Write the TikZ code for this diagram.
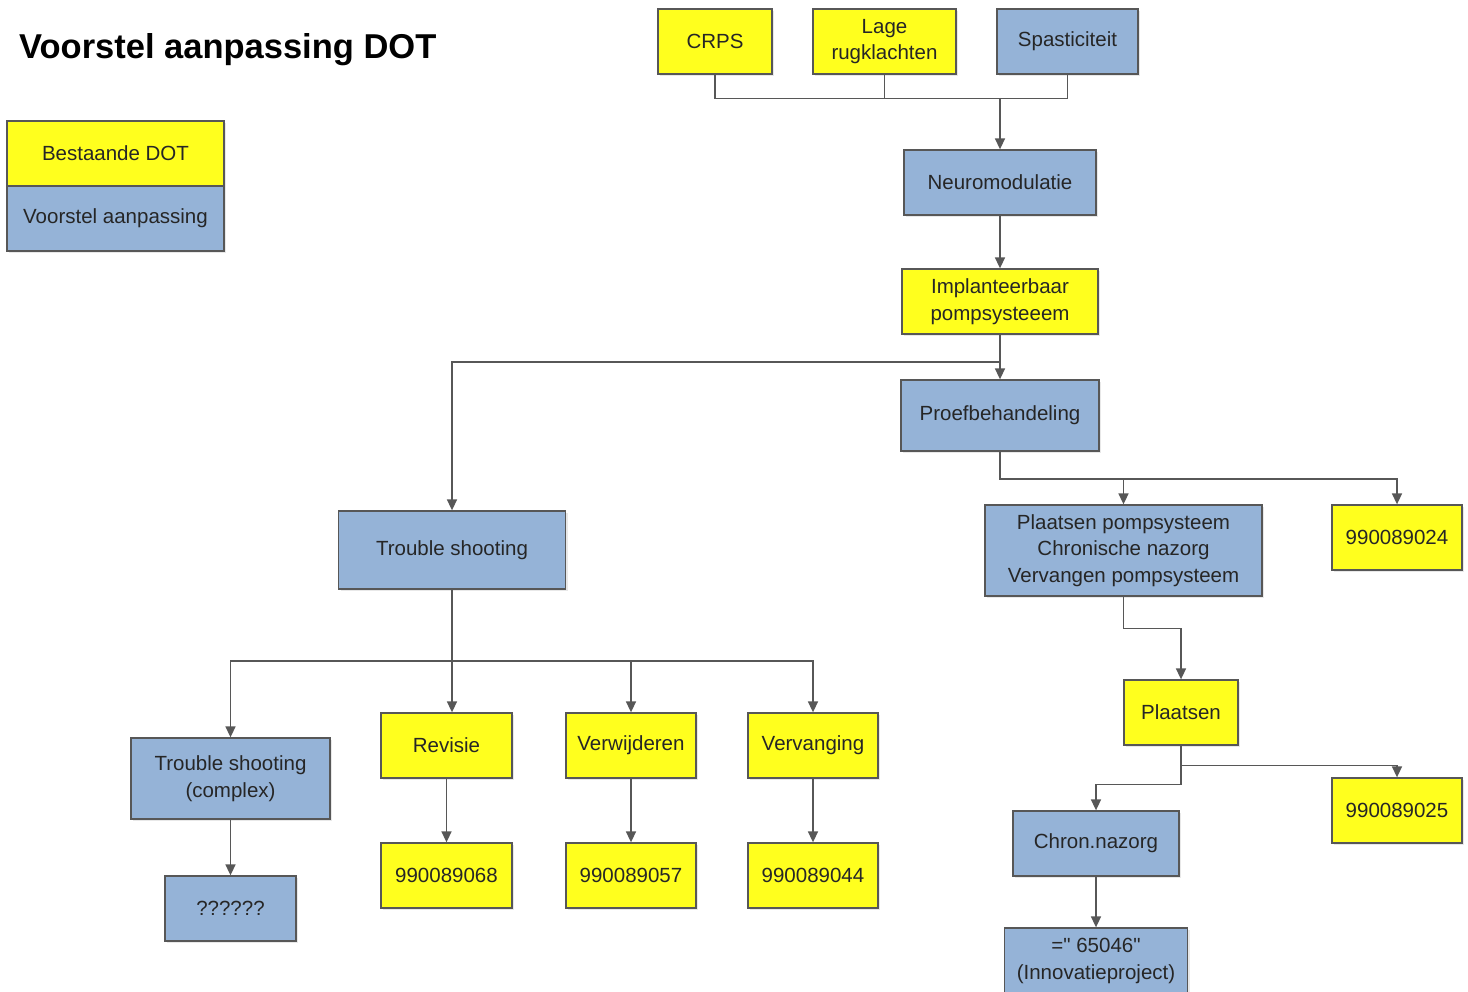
\documentclass[tikz,border=0pt]{standalone}
\usepackage{fontspec}
\setmainfont{Liberation Sans}[Ligatures=TeXOff]
\usepackage{tikz}
\usetikzlibrary{arrows.meta,shadows}

\definecolor{dotyellow}{HTML}{FFFF1E}
\definecolor{newblue}{HTML}{95B3D7}
\definecolor{edgegray}{HTML}{575757}

\begin{document}
\begin{tikzpicture}[x=1pt,y=-1pt,line width=1.6pt,draw=edgegray,
                    >={Triangle[width=10pt,length=11pt]},
                    box/.style={rectangle,draw=edgegray,line width=1.3pt,inner sep=0pt,
                                minimum height=65pt,align=center,text=black!85,
                                font=\fontsize{20.5}{26.5}\selectfont,
                                drop shadow={shadow xshift=2pt,shadow yshift=-2pt,fill=black!18}},
                    dot node/.style={box,fill=dotyellow},
                    new node/.style={box,fill=newblue}]

  \useasboundingbox (0,0) rectangle (1468,992);

  % title and legend
  \node[anchor=west,font=\fontsize{34.5}{40}\selectfont\bfseries] (title) at (15,50)
    {Voorstel aanpassing DOT};
  \node[dot node,minimum width=217pt] (leg1) at (115.5,153.5) {Bestaande DOT};
  \node[new node,minimum width=217pt] (leg2) at (115.5,218.5) {Voorstel aanpassing};

  % top rows
  \node[dot node,minimum width=114pt] (crps) at (715,41.5) {CRPS};
  \node[dot node,minimum width=143pt] (lage) at (884.5,41.5) {Lage\\rugklachten};
  \node[new node,minimum width=141pt] (spast) at (1067.5,41.5) {Spasticiteit};
  \node[new node,minimum width=192pt] (neuro) at (1000,182.5) {Neuromodulatie};
  \node[dot node,minimum width=196pt] (impl) at (1000,301.5) {Implanteerbaar\\pompsysteeem};
  \node[new node,minimum width=198pt,minimum height=71pt] (proef) at (1000,415.5) {Proefbehandeling};

  % right branch
  \node[new node,minimum width=277pt,minimum height=91pt] (pps) at (1123.5,550.5)
    {Plaatsen pompsysteem\\Chronische nazorg\\Vervangen pompsysteem};
  \node[dot node,minimum width=130pt] (code24) at (1397,537.5) {990089024};
  \node[dot node,minimum width=114pt] (plaatsen) at (1181,712.5) {Plaatsen};
  \node[dot node,minimum width=130pt] (code25) at (1397,810.5) {990089025};
  \node[new node,minimum width=166pt] (chron) at (1096,843.5) {Chron.nazorg};
  \node[new node,minimum width=183pt,minimum height=66pt] (innov) at (1096,961)
    {=" 65046"\\(Innovatieproject)};

  % left branch
  \node[new node,minimum width=227pt,minimum height=78pt] (ts) at (452,550) {Trouble shooting};
  \node[new node,minimum width=199pt,minimum height=81pt] (tsc) at (230.5,778.5)
    {Trouble shooting\\(complex)};
  \node[dot node,minimum width=131pt] (revisie) at (446.5,745.5) {Revisie};
  \node[dot node,minimum width=130pt] (verw) at (631,745.5) {Verwijderen};
  \node[dot node,minimum width=130pt] (verv) at (813,745.5) {Vervanging};
  \node[new node,minimum width=131pt] (qq) at (230.5,908.5) {??????};
  \node[dot node,minimum width=131pt] (code68) at (446.5,875.5) {990089068};
  \node[dot node,minimum width=130pt] (code57) at (631,875.5) {990089057};
  \node[dot node,minimum width=130pt] (code44) at (813,875.5) {990089044};

  % junctions
  \coordinate (bus1) at (1000,98);
  \coordinate (split1) at (1000,362);
  \coordinate (split2) at (1000,479);
  \coordinate (split3) at (452,661);

  % connectors
  \draw (crps.south) -- ++(0,24) -| (spast.south);
  \draw (lage.south) -- (lage.south |- bus1);
  \draw[->] (bus1) -- (neuro.north);
  \draw[->] (neuro) -- (impl);
  \draw (impl.south) -- (split1);
  \draw[->] (split1) -- (proef.north);
  \draw[->] (split1) -| (ts.north);

  \draw[->] (proef.south) -- (split2) -| (code24.north);
  \draw[->] (pps.north |- split2) -- (pps.north);
  \draw[->] (pps.south) -- ++(0,32) -| (plaatsen.north);
  \draw[->] (plaatsen.south) -- ++(0,20) -| (code25.north);
  \draw[->] (plaatsen.south) -- ++(0,39) -| (chron.north);
  \draw[->] (chron) -- (innov);

  \draw (ts.south) -- (split3);
  \draw[->] (split3) -| (tsc.north);
  \draw[->] (split3) -| (verv.north);
  \draw[->] (split3) -- (split3 |- revisie.north);
  \draw[->] (verw.north |- split3) -- (verw.north);
  \draw[->] (tsc) -- (qq);
  \draw[->] (revisie) -- (code68);
  \draw[->] (verw) -- (code57);
  \draw[->] (verv) -- (code44);

\end{tikzpicture}
\end{document}
